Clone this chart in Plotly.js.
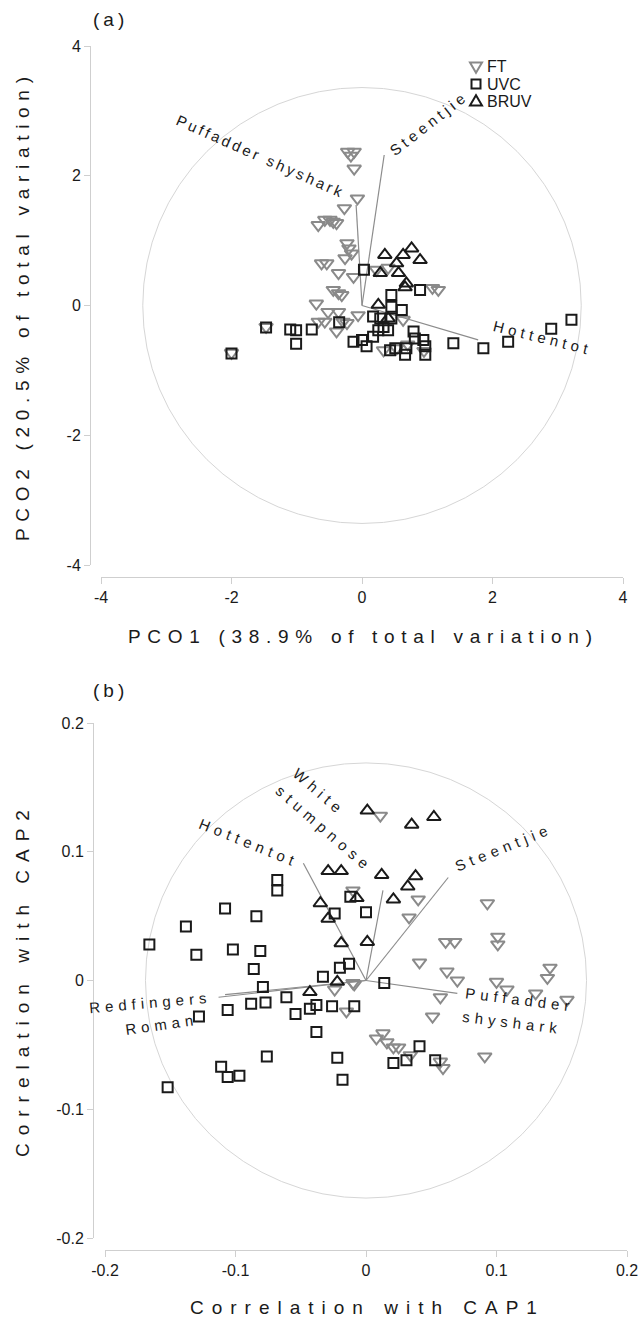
<!DOCTYPE html>
<html>
<head>
<meta charset="utf-8">
<script src="https://cdn.plot.ly/plotly-3.0.1.min.js"></script>
<style>
  html, body { margin: 0; padding: 0; background: #fff; }
  #chart { width: 642px; height: 1323px; }
</style>
</head>
<body>
<div id="chart"></div>
<script>
// ---------- (a) PCO ordination ----------
const groupNames = ['FT', 'UVC', 'BRUV'];

const pcoFT_x = [-0.22, -0.12, -0.17, -0.12, -0.07, -0.27, -0.67, -0.57, -0.49, -0.44, -0.39, -0.23, -0.20, -0.16,
  -0.62, -0.54, -0.26, -0.36, -0.13, -0.44, -0.36, -0.31, -0.70, -0.52, -0.36, -0.67, -0.57, -0.39, -0.29, -0.23,
  -0.06, 0.22, 0.40, 1.17, 1.08, 0.33, 0.53, 0.63, -2.00, -1.47, 0.70, 0.95];
const pcoFT_y = [2.37, 2.37, 2.31, 2.11, 1.65, 1.50, 1.24, 1.32, 1.32, 1.29, 1.27, 0.96, 0.88, 0.80,
  0.65, 0.65, 0.73, 0.50, 0.44, 0.24, 0.19, 0.16, 0.03, -0.10, -0.10, -0.25, -0.25, -0.40, -0.25, -0.27,
  -0.15, 0.55, 0.58, 0.24, 0.27, -0.69, -0.66, -0.22, -0.73, -0.33, -0.60, -0.70];

const pcoUVC_x = [0.03, -1.47, -1.10, -1.01, -0.77, -0.35, -1.01, -2.00, 0.45, 0.89, 0.45, 0.61, 0.17, 0.28, 0.45,
  -0.13, 0.00, 0.07, 0.17, 0.25, 0.33, 0.43, 0.51, 0.66, 0.68, 0.79, 0.81, 0.94, 0.97, 0.97, 1.40, 0.40,
  1.86, 2.24, 2.90, 3.21];
const pcoUVC_y = [0.55, -0.34, -0.37, -0.38, -0.37, -0.26, -0.59, -0.74, 0.16, 0.24, -0.02, -0.07, -0.17, -0.20, -0.20,
  -0.56, -0.53, -0.63, -0.48, -0.38, -0.33, -0.69, -0.66, -0.76, -0.66, -0.40, -0.51, -0.53, -0.63, -0.76, -0.58, -0.38,
  -0.66, -0.56, -0.36, -0.22];

const pcoBRUV_x = [0.35, 0.53, 0.76, 0.63, 0.89, 0.28, 0.56, 0.68, 0.66, 0.25, 0.40];
const pcoBRUV_y = [0.78, 0.65, 0.88, 0.78, 0.70, 0.50, 0.50, 0.34, 0.28, 0.01, -0.20];

// species vectors overlaid on the PCO plot
const pcoVecNames = ['Puffadder shyshark', 'Steentjie', 'Hottentot'];
const pcoVec_x = [-0.09, 0.34, 1.78];
const pcoVec_y = [1.55, 2.32, -0.53];

const pcoTickVals = [-4, -2, 0, 2, 4];
const pcoTickText = ['-4', '-2', '0', '2', '4'];

// ---------- (b) CAP ordination ----------
const capFT_x = [0.011, -0.010, 0.040, 0.093, 0.033, 0.061, 0.068, 0.101, 0.101, 0.041, 0.062, 0.070, 0.100,
  0.141, 0.139, 0.108, 0.130, 0.154, 0.057, 0.051, -0.010, -0.024, -0.009, -0.015, 0.008, 0.013, 0.016,
  0.021, 0.025, 0.034, 0.091, 0.057, 0.059];
const capFT_y = [0.128, 0.070, 0.063, 0.060, 0.049, 0.030, 0.030, 0.034, 0.028, 0.014, 0.007, 0.000, -0.001,
  0.010, 0.002, -0.007, -0.010, -0.015, -0.013, -0.028, -0.002, -0.007, -0.003, -0.024, -0.045, -0.041, -0.048,
  -0.052, -0.052, -0.058, -0.059, -0.063, -0.068];

const capUVC_x = [-0.068, -0.068, -0.108, -0.084, -0.138, -0.166, -0.130, -0.102, -0.081, -0.086, -0.079, -0.033,
  -0.020, -0.013, -0.024, -0.012, 0.000, 0.014, -0.061, -0.088, -0.077, -0.106, -0.128, -0.054, -0.043, -0.038,
  -0.026, -0.009, -0.038, -0.076, -0.022, -0.018, -0.111, -0.106, -0.097, 0.021, 0.031, 0.041, 0.053, -0.152];
const capUVC_y = [0.078, 0.070, 0.056, 0.050, 0.042, 0.028, 0.020, 0.024, 0.023, 0.009, -0.005, 0.003,
  0.010, 0.013, 0.052, 0.065, 0.053, -0.002, -0.013, -0.018, -0.017, -0.023, -0.028, -0.026, -0.022, -0.019,
  -0.020, -0.020, -0.040, -0.059, -0.060, -0.077, -0.067, -0.075, -0.074, -0.064, -0.062, -0.051, -0.062, -0.083];

const capBRUV_x = [0.001, 0.035, 0.052, -0.029, -0.019, -0.035, -0.029, -0.019, -0.022, 0.012, 0.038, 0.032,
  0.021, -0.007, 0.001, -0.043];
const capBRUV_y = [0.132, 0.121, 0.127, 0.085, 0.085, 0.060, 0.048, 0.029, -0.001, 0.082, 0.081, 0.073,
  0.063, 0.064, 0.030, -0.009];

// species correlation vectors
const capVecNames = ['Hottentot', 'White stumpnose', 'Steentjie', 'Puffadder shyshark', 'Redfingers', 'Roman'];
const capVec_x = [-0.048, 0.013, 0.063, 0.070, -0.113, -0.108];
const capVec_y = [0.091, 0.070, 0.080, -0.010, -0.013, -0.011];

const capTickVals = [-0.2, -0.1, 0, 0.1, 0.2];
const capTickText = ['-0.2', '-0.1', '0', '0.1', '0.2'];

// radii of the reference circles
const pcoCircleR = 3.36;
const capCircleR = 0.169;

// ---------- drawing ----------
const W = 642, H = 1323;
const FONT = 'Liberation Sans, Arial, sans-serif';
const INK = '#1a1a1a';
const GREY = '#8a8a8a';

// pixel -> paper helpers for items placed on the page itself
const PX = v => v / W;
const PY = v => 1 - v / H;

const styles = {
  FT:   { symbol: 'triangle-down-open', size: 12, color: GREY, line: { width: 2 } },
  UVC:  { symbol: 'square-open', size: 10, color: INK, line: { width: 2 } },
  BRUV: { symbol: 'triangle-up-open', size: 12, color: INK, line: { width: 2 } }
};

function vectorTrace(vx, vy, xa, ya) {
  const x = [], y = [];
  vx.forEach((v, i) => { x.push(0, v, null); y.push(0, vy[i], null); });
  return { x, y, xaxis: xa, yaxis: ya, mode: 'lines', line: { color: '#8c8c8c', width: 1.2 },
           showlegend: false, hoverinfo: 'skip' };
}

function pts(name, x, y, xa, ya) {
  return { x, y, name, xaxis: xa, yaxis: ya, type: 'scatter', mode: 'markers',
           marker: styles[name], showlegend: false, cliponaxis: false };
}

const traces = [
  vectorTrace(pcoVec_x, pcoVec_y, 'x', 'y'),
  vectorTrace(capVec_x, capVec_y, 'x2', 'y2'),
  pts(groupNames[0], pcoFT_x, pcoFT_y, 'x', 'y'),
  pts(groupNames[1], pcoUVC_x, pcoUVC_y, 'x', 'y'),
  pts(groupNames[2], pcoBRUV_x, pcoBRUV_y, 'x', 'y'),
  pts(groupNames[0], capFT_x, capFT_y, 'x2', 'y2'),
  pts(groupNames[1], capUVC_x, capUVC_y, 'x2', 'y2'),
  pts(groupNames[2], capBRUV_x, capBRUV_y, 'x2', 'y2')
];

function axis(extra) {
  return Object.assign({
    anchor: 'free', showline: true, linecolor: '#cfcfcf', linewidth: 1,
    ticks: 'outside', ticklen: 6, tickcolor: '#cfcfcf', tickwidth: 1,
    showgrid: false, zeroline: false, fixedrange: true,
    tickfont: { family: FONT, size: 16, color: INK }
  }, extra);
}

const labelFont = { family: FONT, size: 15, color: INK };
const titleFont = { family: FONT, size: 19, color: INK };
const legendFont = { family: FONT, size: 16, color: INK };

// letter-spaced text
const spaced = (t, px) => '<span style="letter-spacing:' + px + 'px">' + t + '</span>';

function note(text, x, y, xref, yref, angle, font, xanchor) {
  return { text, x, y, xref, yref, showarrow: false, textangle: angle || 0,
           xanchor: xanchor || 'center', yanchor: 'middle', font: font || labelFont };
}

const annotations = [
  // panel tags
  note(spaced('(a)', 4), PX(110), PY(20), 'paper', 'paper', 0, titleFont),
  note(spaced('(b)', 4), PX(110), PY(690), 'paper', 'paper', 0, titleFont),
  // axis titles
  note(spaced('PCO1 (38.9% of total variation)', 6.7), PX(363), PY(637), 'paper', 'paper', 0, titleFont),
  note(spaced('PCO2 (20.5% of total variation)', 6.7), PX(22), PY(306), 'paper', 'paper', -90, titleFont),
  note(spaced('Correlation with CAP1', 8), PX(368), PY(1307), 'paper', 'paper', 0, titleFont),
  note(spaced('Correlation with CAP2', 8), PX(22), PY(980), 'paper', 'paper', -90, titleFont),
  // vector labels, panel (a)
  note(spaced(pcoVecNames[0], 3), -1.55, 2.29, 'x', 'y', 24),
  note(spaced(pcoVecNames[1], 4), 1.02, 2.80, 'x', 'y', -38),
  note(spaced(pcoVecNames[2], 4.5), 2.76, -0.50, 'x', 'y', 14),
  // vector labels, panel (b)
  note(spaced(capVecNames[0], 5), -0.090, 0.107, 'x2', 'y2', 22),
  note(spaced('White', 5), -0.036, 0.147, 'x2', 'y2', 41),
  note(spaced('stumpnose', 5.5), -0.032, 0.118, 'x2', 'y2', 41),
  note(spaced(capVecNames[2], 5), 0.105, 0.103, 'x2', 'y2', -22),
  note(spaced('Puffadder', 5), 0.118, -0.015, 'x2', 'y2', 7),
  note(spaced('shyshark', 5), 0.112, -0.033, 'x2', 'y2', 7),
  note(spaced(capVecNames[4], 5), -0.165, -0.017, 'x2', 'y2', -5),
  note(spaced(capVecNames[5], 5), -0.157, -0.034, 'x2', 'y2', -8)
];

// legend keys for the three survey methods
const legendX = 476, legendY0 = 67, legendStep = 17;
groupNames.forEach((g, i) => {
  annotations.push(note(g, PX(legendX + 9), PY(legendY0 + i * legendStep), 'paper', 'paper', 0, legendFont, 'left'));
});

function keyPath(kind, cx, cy) {
  const h = 6;
  let p;
  if (kind === 'FT') p = [[cx - h, cy - h * 0.75], [cx + h, cy - h * 0.75], [cx, cy + h * 0.95]];
  else if (kind === 'BRUV') p = [[cx - h, cy + h * 0.75], [cx + h, cy + h * 0.75], [cx, cy - h * 0.95]];
  else { const s = 4.5; p = [[cx - s, cy - s], [cx + s, cy - s], [cx + s, cy + s], [cx - s, cy + s]]; }
  return 'M ' + p.map(q => PX(q[0]) + ',' + PY(q[1])).join(' L ') + ' Z';
}

const shapes = [
  { type: 'circle', xref: 'x', yref: 'y', x0: -pcoCircleR, x1: pcoCircleR, y0: -pcoCircleR, y1: pcoCircleR,
    line: { color: '#d6d6d6', width: 1 }, layer: 'below' },
  { type: 'circle', xref: 'x2', yref: 'y2', x0: -capCircleR, x1: capCircleR, y0: -capCircleR, y1: capCircleR,
    line: { color: '#d6d6d6', width: 1 }, layer: 'below' }
];
groupNames.forEach((g, i) => {
  shapes.push({ type: 'path', xref: 'paper', yref: 'paper', path: keyPath(g, legendX, legendY0 + i * legendStep),
                line: { color: styles[g].color, width: 2 }, fillcolor: 'rgba(0,0,0,0)' });
});

const layout = {
  width: W, height: H,
  margin: { l: 0, r: 0, t: 0, b: 0 },
  paper_bgcolor: '#fff', plot_bgcolor: 'rgba(0,0,0,0)',
  font: { family: FONT, color: INK },
  showlegend: false,
  xaxis: axis({ domain: [PX(101), PX(623)], range: [-4, 4], position: PY(577),
                tickvals: pcoTickVals, ticktext: pcoTickText }),
  yaxis: axis({ domain: [PY(565), PY(46)], range: [-4, 4], position: PX(90),
                tickvals: pcoTickVals, ticktext: pcoTickText }),
  xaxis2: axis({ domain: [PX(105), PX(627)], range: [-0.2, 0.2], position: PY(1250),
                 tickvals: capTickVals, ticktext: capTickText }),
  yaxis2: axis({ domain: [PY(1238), PY(723)], range: [-0.2, 0.2], position: PX(93),
                 tickvals: capTickVals, ticktext: capTickText }),
  annotations, shapes
};

Plotly.newPlot('chart', traces, layout, { staticPlot: true, displayModeBar: false });
</script>
</body>
</html>
